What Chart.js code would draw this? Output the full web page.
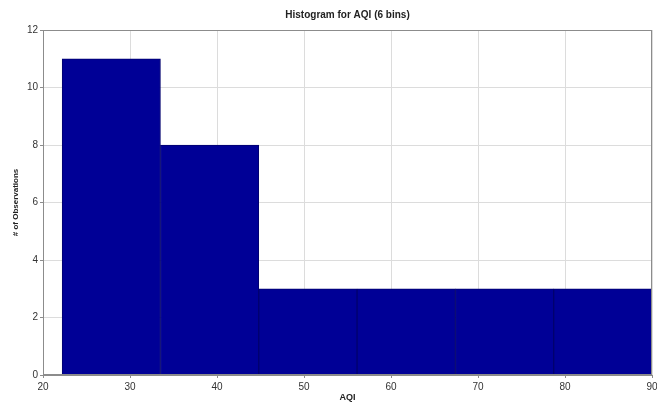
<!DOCTYPE html>
<html>
<head>
<meta charset="utf-8">
<script src="https://cdn.jsdelivr.net/npm/chart.js@4.4.1/dist/chart.umd.min.js"></script>
<style>
html,body{margin:0;padding:0;background:#fff;}
#wrap{width:657px;height:403px;position:relative;}
</style>
</head>
<body>
<div id="wrap"><canvas id="c" width="657" height="403"></canvas></div>
<script>
// Histogram data
const binEdges = [22.2, 33.5, 44.8, 56.1, 67.4, 78.7, 90];
const counts = [11, 8, 3, 3, 3, 3];
const xTicks = [20, 30, 40, 50, 60, 70, 80, 90];
const yTicks = [0, 2, 4, 6, 8, 10, 12];

const points = counts.map((c, i) => ({ x: (binEdges[i] + binEdges[i + 1]) / 2, y: c }));

const frame = {
  id: 'frame',
  afterDatasetsDraw(chart) {
    const a = chart.chartArea, ctx = chart.ctx;
    ctx.save();
    ctx.strokeStyle = '#8c8c8c';
    ctx.lineWidth = 1;
    ctx.strokeRect(Math.round(a.left) + 0.5, Math.round(a.top) + 0.5,
      Math.round(a.right - a.left) - 1, Math.round(a.bottom - a.top) - 1);
    ctx.restore();
  }
};

const FONT = "'Liberation Sans', Arial, sans-serif";

new Chart(document.getElementById('c'), {
  type: 'bar',
  data: {
    datasets: [{
      data: points,
      xAxisID: 'xb',
      backgroundColor: '#000096',
      borderColor: '#00006e',
      borderWidth: 1,
      barPercentage: 1,
      categoryPercentage: 1
    }]
  },
  options: {
    responsive: false,
    animation: false,
    devicePixelRatio: 1,
    layout: { padding: { left: 0, right: 0, top: 0, bottom: 0 } },
    plugins: {
      legend: { display: false },
      tooltip: { enabled: false },
      title: {
        display: true,
        text: 'Histogram for AQI (6 bins)',
        fullSize: false,
        color: '#222',
        font: { family: FONT, size: 10, weight: 'bold' },
        padding: { top: 9, bottom: 9 }
      }
    },
    scales: {
      xb: {
        type: 'linear',
        position: 'top',
        display: false,
        offset: false,
        min: xTicks[0],
        max: xTicks[xTicks.length - 1],
        grid: { offset: false },
        afterBuildTicks: (axis) => { axis.ticks = binEdges.map(v => ({ value: v })); },
        afterFit: (s) => { s.paddingRight = 0; s.paddingLeft = 0; }
      },
      x: {
        type: 'linear',
        position: 'bottom',
        offset: false,
        min: xTicks[0],
        max: xTicks[xTicks.length - 1],
        afterBuildTicks: (axis) => { axis.ticks = xTicks.map(v => ({ value: v })); },
        afterFit: (s) => { s.height = 28; s.paddingRight = 5; s.paddingLeft = 0; },
        border: { display: true, color: '#8c8c8c' },
        grid: { offset: false, color: '#dcdcdc', tickLength: 3, tickColor: '#8c8c8c' },
        ticks: { color: '#333', font: { family: FONT, size: 10 }, padding: 3, maxRotation: 0 },
        title: {
          display: true, text: 'AQI', color: '#222',
          font: { family: FONT, size: 9, weight: 'bold' }, padding: { top: 0, bottom: 0 }
        }
      },
      y: {
        min: yTicks[0],
        max: yTicks[yTicks.length - 1],
        afterBuildTicks: (axis) => { axis.ticks = yTicks.map(v => ({ value: v })); },
        afterFit: (s) => { s.width = 43; },
        border: { display: true, color: '#8c8c8c' },
        grid: { color: '#dcdcdc', tickLength: 3, tickColor: '#8c8c8c' },
        ticks: { color: '#333', font: { family: FONT, size: 10 }, padding: 2 },
        title: {
          display: true, text: '# of Observations', color: '#222',
          font: { family: FONT, size: 8, weight: 'bold' }, padding: { top: 11, bottom: 4 }
        }
      }
    }
  },
  plugins: [frame]
});
</script>
</body>
</html>
